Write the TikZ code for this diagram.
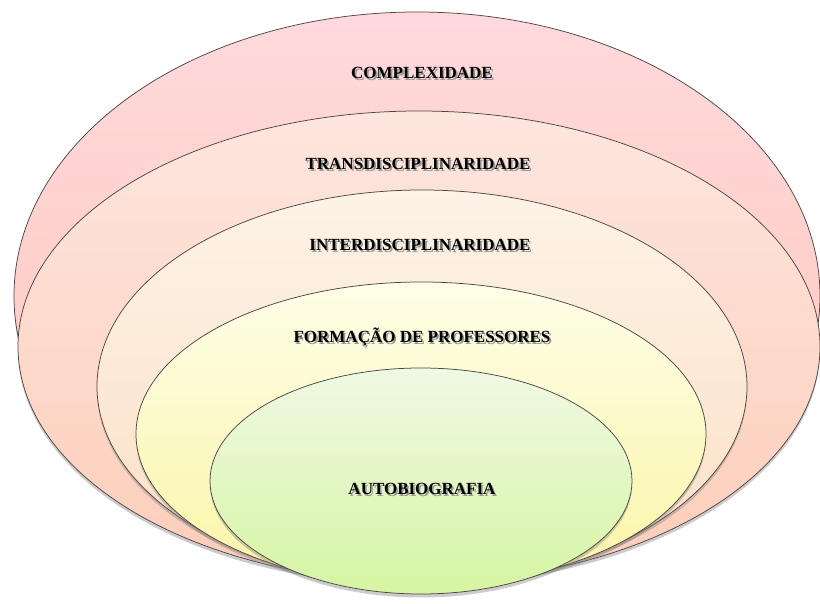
\documentclass[tikz,border=0pt]{standalone}
\usepackage{xcolor}
\usepackage{fontspec}
\setmainfont{Liberation Serif}
\usepackage{tikz}
\usetikzlibrary{shapes.geometric}
\usetikzlibrary{shadows}
\definecolor{rimgray}{HTML}{4E4646}
\definecolor{pinkA}{HTML}{FFD9DC}
\definecolor{pinkB}{HTML}{FFC6B8}
\definecolor{peachA}{HTML}{FDE6DE}
\definecolor{peachB}{HTML}{FDCDB9}
\definecolor{creamA}{HTML}{FDF3E6}
\definecolor{creamB}{HTML}{FBDFC4}
\definecolor{yellA}{HTML}{FEFEE8}
\definecolor{yellB}{HTML}{FAF5A6}
\definecolor{greenA}{HTML}{EFF9E4}
\definecolor{greenB}{HTML}{D6F5A2}
\newcommand{\shtext}[1]{\makebox[0pt][l]{\hspace{1.6pt}\raisebox{-1.6pt}{\textcolor{black!40}{#1}}}#1}
\tikzstyle{ring} = [ellipse, draw=rimgray, line width=0.75pt, inner sep=0pt,
  drop shadow={shadow xshift=0pt, shadow yshift=-3.5pt, opacity=0.4}]
\tikzstyle{tag} = [font=\fontsize{17}{19}\selectfont\bfseries, text=black]

\begin{document}
\begin{tikzpicture}[x=1pt, y=1pt]
\useasboundingbox (0,0) rectangle (820,603);
\node [ring, top color=pinkA, bottom color=pinkB, minimum width=806pt, minimum height=568pt] (cpx) at (417, 307) {};
\node [ring, top color=peachA, bottom color=peachB, minimum width=802pt, minimum height=471pt] (trans) at (419, 256.5) {};
\node [ring, top color=creamA, bottom color=creamB, minimum width=650pt, minimum height=393pt] (inter) at (422, 216.5) {};
\node [ring, top color=yellA, bottom color=yellB, minimum width=570pt, minimum height=304pt] (form) at (421, 169) {};
\node [ring, top color=greenA, bottom color=greenB, minimum width=422pt, minimum height=226pt] (auto) at (421, 122) {};
\node [tag] (tcpx) at (422, 529) {\shtext{COMPLEXIDADE}};
\node [tag] (ttrans) at (418, 438) {\shtext{TRANSDISCIPLINARIDADE}};
\node [tag] (tinter) at (420, 357) {\shtext{INTERDISCIPLINARIDADE}};
\node [tag] (tform) at (422, 265) {\shtext{FORMAÇÃO DE PROFESSORES}};
\node [tag] (tauto) at (422, 113) {\shtext{AUTOBIOGRAFIA}};
\end{tikzpicture}
\end{document}
